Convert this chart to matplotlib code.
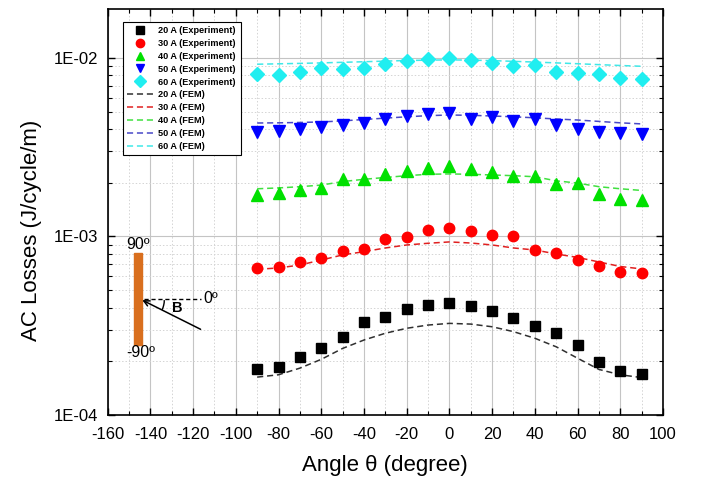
import numpy as np
import matplotlib
matplotlib.use("Agg")
from matplotlib import pyplot as plt
from matplotlib.ticker import MultipleLocator, LogLocator, FuncFormatter, NullFormatter
from matplotlib.patches import Arc, Rectangle
from matplotlib.transforms import ScaledTranslation

plt.rcParams['font.family'] = ['Liberation Sans', 'DejaVu Sans']
plt.rcParams['axes.unicode_minus'] = False

angle = np.arange(-90, 91, 10)

# measured losses (J/cycle/m)
exp_20 = [1.80e-4, 1.86e-4, 2.11e-4, 2.36e-4, 2.75e-4, 3.33e-4, 3.55e-4, 3.91e-4, 4.13e-4, 4.26e-4,
          4.10e-4, 3.84e-4, 3.51e-4, 3.14e-4, 2.87e-4, 2.46e-4, 1.99e-4, 1.76e-4, 1.70e-4]
exp_30 = [6.63e-4, 6.77e-4, 7.22e-4, 7.61e-4, 8.29e-4, 8.51e-4, 9.68e-4, 9.97e-4, 1.087e-3, 1.111e-3,
          1.078e-3, 1.020e-3, 1.006e-3, 8.40e-4, 8.11e-4, 7.38e-4, 6.84e-4, 6.33e-4, 6.27e-4]
exp_40 = [1.71e-3, 1.76e-3, 1.81e-3, 1.87e-3, 2.09e-3, 2.09e-3, 2.23e-3, 2.34e-3, 2.43e-3, 2.48e-3,
          2.39e-3, 2.30e-3, 2.18e-3, 2.18e-3, 1.96e-3, 2.00e-3, 1.72e-3, 1.62e-3, 1.60e-3]
exp_50 = [3.87e-3, 3.91e-3, 3.99e-3, 4.12e-3, 4.20e-3, 4.34e-3, 4.55e-3, 4.73e-3, 4.86e-3, 4.94e-3,
          4.57e-3, 4.65e-3, 4.45e-3, 4.54e-3, 4.20e-3, 3.99e-3, 3.87e-3, 3.82e-3, 3.74e-3]
exp_60 = [8.13e-3, 8.00e-3, 8.38e-3, 8.79e-3, 8.64e-3, 8.83e-3, 9.29e-3, 9.66e-3, 9.87e-3, 1.004e-2,
          9.74e-3, 9.41e-3, 8.98e-3, 9.10e-3, 8.38e-3, 8.21e-3, 8.17e-3, 7.76e-3, 7.60e-3]

# simulated losses (J/cycle/m)
fem_20 = [1.63e-4, 1.68e-4, 1.83e-4, 2.05e-4, 2.36e-4, 2.63e-4, 2.87e-4, 3.06e-4, 3.19e-4, 3.26e-4,
          3.23e-4, 3.12e-4, 2.93e-4, 2.69e-4, 2.41e-4, 2.08e-4, 1.80e-4, 1.68e-4, 1.62e-4]
fem_30 = [6.55e-4, 6.66e-4, 6.92e-4, 7.38e-4, 7.88e-4, 8.22e-4, 8.62e-4, 8.96e-4, 9.16e-4, 9.32e-4,
          9.19e-4, 8.96e-4, 8.62e-4, 8.40e-4, 7.98e-4, 7.63e-4, 7.20e-4, 6.79e-4, 6.58e-4]
fem_40 = [1.85e-3, 1.87e-3, 1.90e-3, 1.94e-3, 2.03e-3, 2.09e-3, 2.14e-3, 2.19e-3, 2.23e-3, 2.24e-3,
          2.23e-3, 2.21e-3, 2.19e-3, 2.16e-3, 2.05e-3, 1.99e-3, 1.90e-3, 1.85e-3, 1.81e-3]
fem_50 = [4.32e-3, 4.33e-3, 4.35e-3, 4.38e-3, 4.44e-3, 4.52e-3, 4.60e-3, 4.68e-3, 4.75e-3, 4.79e-3,
          4.77e-3, 4.73e-3, 4.68e-3, 4.62e-3, 4.55e-3, 4.49e-3, 4.41e-3, 4.33e-3, 4.27e-3]
fem_60 = [9.22e-3, 9.27e-3, 9.32e-3, 9.38e-3, 9.45e-3, 9.52e-3, 9.60e-3, 9.67e-3, 9.72e-3, 9.75e-3,
          9.72e-3, 9.66e-3, 9.57e-3, 9.48e-3, 9.38e-3, 9.28e-3, 9.17e-3, 9.07e-3, 8.98e-3]

currents = ["20 A", "30 A", "40 A", "50 A", "60 A"]
exp_data = [exp_20, exp_30, exp_40, exp_50, exp_60]
fem_data = [fem_20, fem_30, fem_40, fem_50, fem_60]
marker_colors = ["#000000", "#ff0000", "#00e000", "#0000ff", "#20eef0"]
line_colors = ["#303030", "#e02020", "#40e040", "#4848c8", "#40e8e8"]
markers = ["s", "o", "^", "v", "D"]
msizes = [6.5, 7.5, 8, 8, 7.5]

fig = plt.figure(figsize=(7.01, 4.83), dpi=100)
ax = fig.add_axes([0.1536, 0.1408, 0.7922, 0.8406])

exp_handles = []
fem_handles = []
for i in range(5):
    h, = ax.plot(angle, exp_data[i], linestyle="none", marker=markers[i], ms=msizes[i],
                 color=marker_colors[i], mec=marker_colors[i],
                 label=currents[i] + " (Experiment)", zorder=4)
    exp_handles.append(h)
for i in range(5):
    h, = ax.plot(angle, fem_data[i], linestyle=(0, (4, 2.5)), lw=1.1, color=line_colors[i],
                 label=currents[i] + " (FEM)", zorder=3)
    fem_handles.append(h)

ax.set_yscale("log")
ax.set_xlim(-160, 100)
ax.set_ylim(1e-4, 1.88e-2)

ax.xaxis.set_major_locator(MultipleLocator(20))
ax.xaxis.set_minor_locator(MultipleLocator(10))
ax.yaxis.set_major_locator(LogLocator(base=10, numticks=10))
ax.yaxis.set_minor_locator(LogLocator(base=10, subs=np.arange(2, 10), numticks=20))
ax.yaxis.set_major_formatter(FuncFormatter(lambda v, p: "1E%+03d" % int(round(np.log10(v))) if v > 0 else ""))
ax.yaxis.set_minor_formatter(NullFormatter())

ax.grid(which="major", color="#c4c4c4", lw=0.8, ls="-")
ax.grid(which="minor", color="#d4d4d4", lw=0.7, ls=(0, (1.5, 2)))
ax.set_axisbelow(True)

ax.tick_params(which="both", direction="in", top=True, right=True, labelsize=12)
ax.tick_params(axis="x", pad=9)
ax.tick_params(axis="y", pad=7)
ax.tick_params(which="major", length=5, width=1)
ax.tick_params(which="minor", length=3, width=0.8)
for s in ax.spines.values():
    s.set_linewidth(1.2)

ax.set_xlabel("Angle θ (degree)", fontsize=16, labelpad=9)
ax.set_ylabel("AC Losses (J/cycle/m)", fontsize=16)
ax.yaxis.set_label_coords(-0.118, 0.455)

leg = ax.legend(handles=exp_handles + fem_handles, loc="upper left",
                bbox_to_anchor=(0.027, 0.969), borderaxespad=0,
                prop={"size": 6.6, "weight": "bold"}, fancybox=False,
                edgecolor="black", framealpha=1, handlelength=2.8,
                labelspacing=0.42, markerscale=0.8, borderpad=0.5, handletextpad=0.6)
leg.get_frame().set_linewidth(0.8)

# field orientation sketch
ax.add_patch(Rectangle((-147.7, 2.47e-4), 3.9, 8.11e-4 - 2.47e-4, color="#d96f1e", zorder=5))
ax.text(-146, 8.96e-4, "90º", fontsize=11.5, ha="center", va="center", zorder=6)
ax.text(-144.6, 2.25e-4, "-90º", fontsize=11.5, ha="center", va="center", zorder=6)
ax.plot([-143.1, -116.5], [4.45e-4, 4.45e-4], color="black", lw=1, ls=(0, (3, 2)), zorder=6)
ax.text(-115.1, 4.5e-4, "0º", fontsize=11.5, ha="left", va="center", zorder=6)
ax.annotate("", xy=(-143.8, 4.40e-4), xytext=(-116.5, 3.02e-4),
            arrowprops=dict(arrowstyle="->", color="black", lw=1.1, shrinkA=0, shrinkB=0),
            zorder=6)
tip = ScaledTranslation(-143.8, 4.40e-4, ax.transData)
ax.add_patch(Arc((0, 0), 0.44, 0.44, theta1=-26, theta2=0, color="black", lw=1,
                 transform=fig.dpi_scale_trans + tip, zorder=6))
ax.text(-127.3, 3.95e-4, "B", fontsize=10.5, fontweight="bold", ha="center", va="center", zorder=6)

fig.savefig("out.png", dpi=100)
